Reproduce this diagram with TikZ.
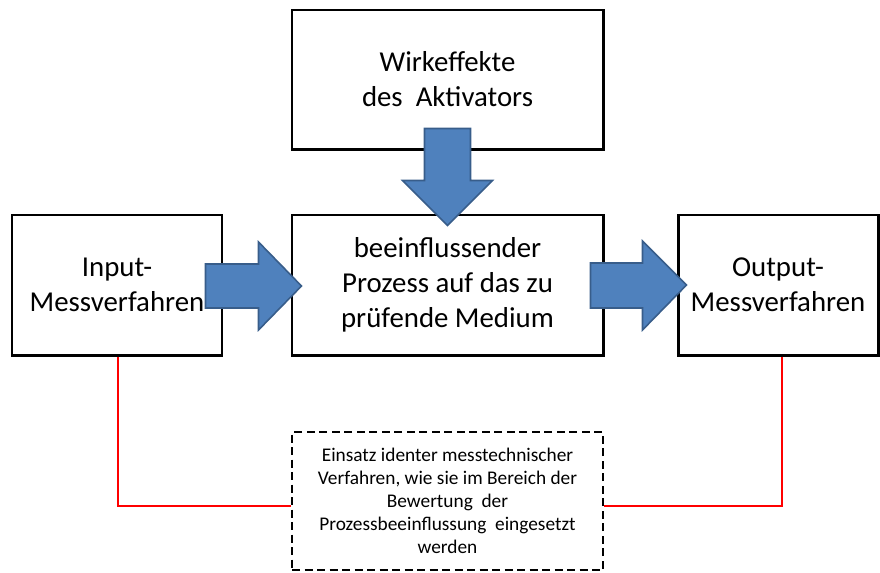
\documentclass[tikz,border=0pt]{standalone}
\usepackage{fontspec}
\setmainfont{Carlito}
\usetikzlibrary{calc}

\definecolor{pfeilblau}{HTML}{4F81BD}
\definecolor{pfeilrand}{HTML}{385D8A}

\tikzset{
    kasten/.style={draw, line width=1.7pt, align=center, inner sep=0pt,
        font=\fontsize{16.4}{20}\selectfont},
    hinweis/.style={draw, line width=1.6pt, dash pattern=on 1.6mm off 0.9mm,
        align=center, inner sep=0pt, font=\fontsize{11}{13}\selectfont},
    pfeil/.style={fill=pfeilblau, draw=pfeilrand, line width=0.9pt, line join=miter},
    rotlinie/.style={draw=red, line width=1.6pt}
}

\begin{document}
\begin{tikzpicture}[x=0.2mm, y=-0.2mm]
                    \useasboundingbox (0, 0) rectangle (880, 572);

                    \node[kasten, minimum width=62.2mm, minimum height=27.8mm] (wirk) at (447.5, 79.5)
                        {Wirkeffekte\\des~ Aktivators};
                    \node[kasten, minimum width=42mm, minimum height=28mm] (input) at (117, 285)
                        {Input-\\Messverfahren};
                    \node[kasten, minimum width=62.2mm, minimum height=28mm] (prozess) at (447.5, 285)
                        {beeinflussender\\Prozess auf das zu\\prüfende Medium};
                    \node[kasten, minimum width=40mm, minimum height=28mm] (output) at (778, 285)
                        {Output-\\Messverfahren};
                    \node[hinweis, minimum width=62.2mm, minimum height=27.6mm] (einsatz) at (447.5, 501)
                        {Einsatz identer messtechnischer\\Verfahren, wie sie im Bereich der\\Bewertung~ der\\Prozessbeeinflussung~ eingesetzt\\werden};

                    % Blockpfeile
                    \draw[pfeil] ($(prozess.north)+(0, 12)$) -- ++(-45, -45) -- ++(22, 0) -- ++(0, -52)
                        -- ++(46, 0) -- ++(0, 52) -- ++(22, 0) -- cycle;
                    \draw[pfeil] ($(prozess.west)+(11, 1)$) -- ++(-43, -44) -- ++(0, 22) -- ++(-53, 0)
                        -- ++(0, 44) -- ++(53, 0) -- ++(0, 22) -- cycle;
                    \draw[pfeil] ($(output.west)+(10, 0)$) -- ++(-44, -44) -- ++(0, 22) -- ++(-52, 0)
                        -- ++(0, 45) -- ++(52, 0) -- ++(0, 22) -- cycle;

                    % Verbindungen zum Hinweis
                    \draw[rotlinie] ($(input.south)+(1, 0)$) |- ($(einsatz.west)+(0, 5)$);
                    \draw[rotlinie] ($(output.south)+(4, 0)$) |- ($(einsatz.east)+(0, 5)$);
                \end{tikzpicture}
\end{document}
